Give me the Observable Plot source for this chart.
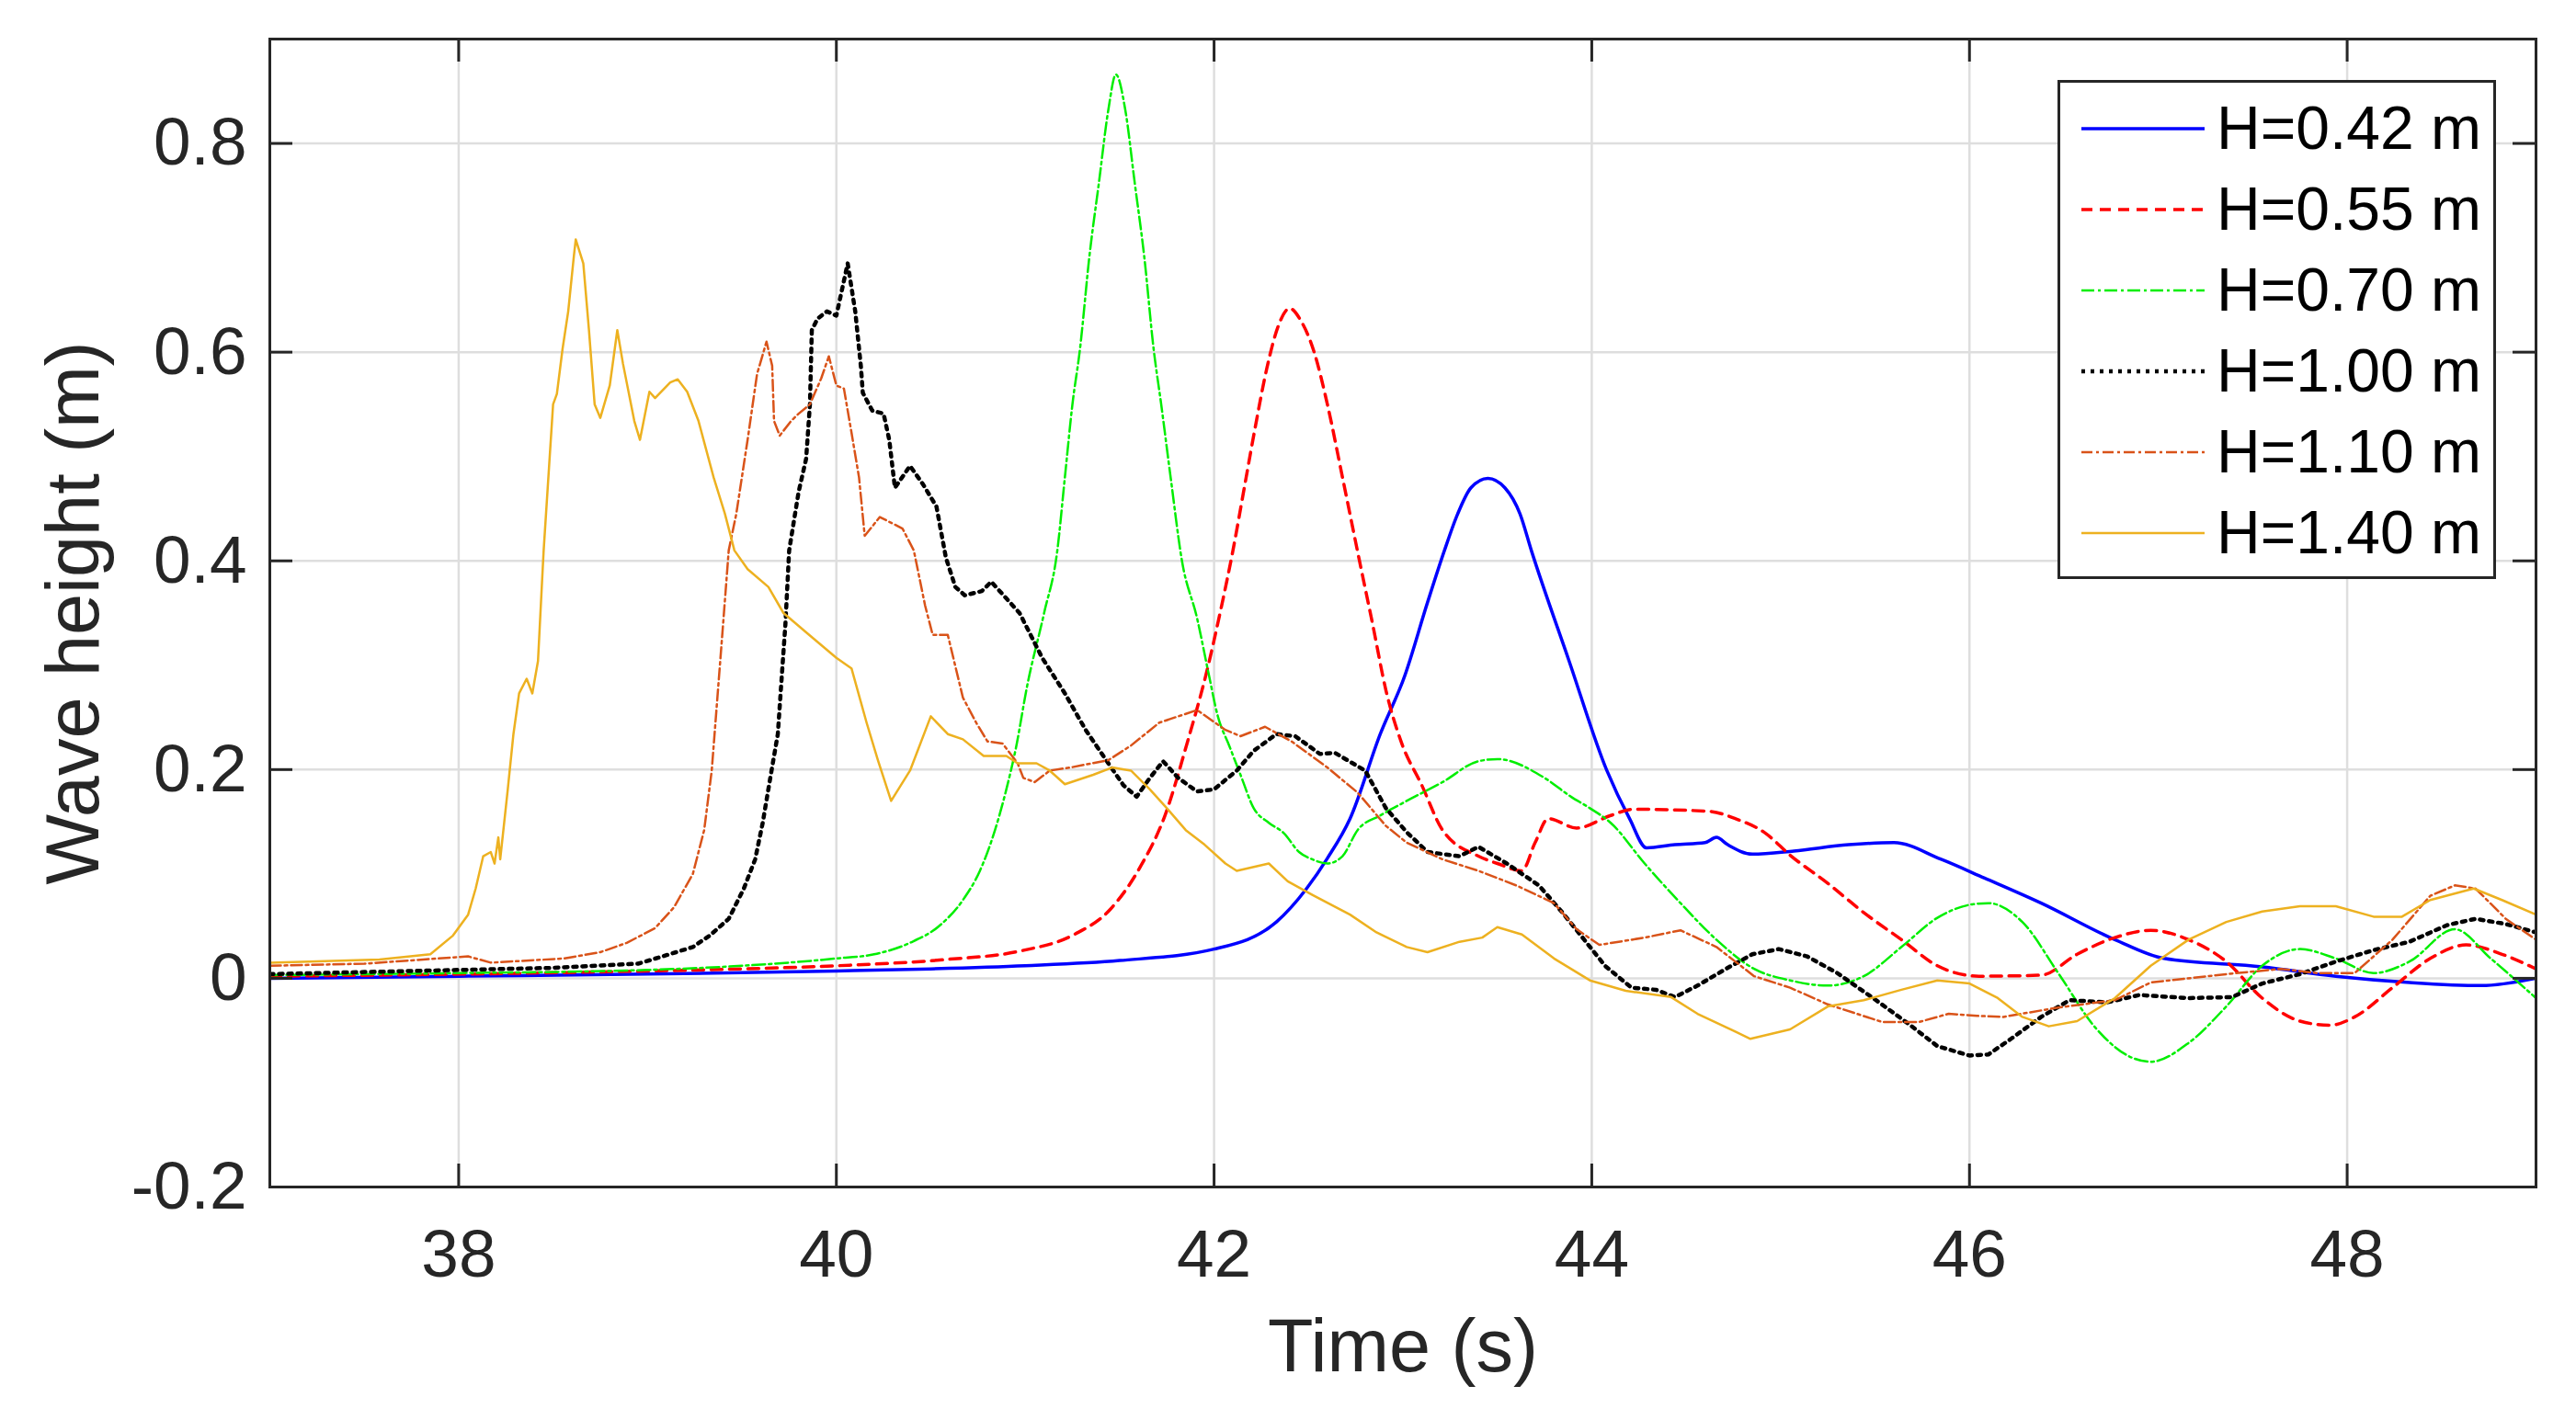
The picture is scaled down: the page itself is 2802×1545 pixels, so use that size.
<!DOCTYPE html>
<html>
<head>
<meta charset="utf-8">
<script src="https://cdn.jsdelivr.net/npm/d3@7"></script>
<script src="https://cdn.jsdelivr.net/npm/@observablehq/plot@0.6"></script>
<style>
  html, body { margin: 0; padding: 0; background: #fff; }
  #wrap { position: relative; width: 2802px; height: 1545px; font-family: "Liberation Sans", Arial, sans-serif; }
  #legend { position: absolute; box-sizing: border-box; background: #fff; border: 3px solid #262626; color: #000; }
  .entry { position: absolute; left: 0; height: 88px; width: 100%; }
  .entry svg { position: absolute; left: 22px; top: 39px; }
  .entry span { position: absolute; left: 170px; top: 0; line-height: 88px; font-size: 66px; white-space: nowrap; }
</style>
</head>
<body>
<div id="wrap"></div>
<script>
// ---- data (time in s, wave height in m) ----
const xTicks = [38, 40, 42, 44, 46, 48];
const yTicks = [-0.2, 0, 0.2, 0.4, 0.6, 0.8];
const seriesNames = ["H=0.42 m", "H=0.55 m", "H=0.70 m", "H=1.00 m", "H=1.10 m", "H=1.40 m"];

const h042 = [[37,0.0],[38,0.002],[39,0.004],[40,0.007],[40.5,0.009],[41,0.012],[41.5,0.017],[42,0.028],[42.33,0.054],[42.49,0.086],[42.6,0.115],[42.72,0.153],[42.88,0.234],[43.01,0.29],[43.13,0.36],[43.22,0.41],[43.29,0.445],[43.36,0.47],[43.45,0.479],[43.54,0.47],[43.62,0.445],[43.68,0.41],[43.88,0.304],[44.08,0.199],[44.2,0.153],[44.29,0.125],[44.44,0.128],[44.6,0.13],[44.66,0.135],[44.72,0.128],[44.85,0.119],[45.07,0.122],[45.36,0.128],[45.6,0.13],[45.85,0.114],[46.08,0.096],[46.38,0.072],[46.77,0.037],[47.03,0.019],[47.55,0.011],[47.94,0.002],[48.33,-0.004],[48.71,-0.007],[49,0.0]];

const h055 = [[37,0.002],[38,0.004],[39,0.007],[39.5,0.009],[40,0.012],[40.58,0.018],[40.97,0.026],[41.26,0.042],[41.45,0.066],[41.61,0.107],[41.74,0.156],[41.86,0.227],[41.96,0.293],[42.04,0.357],[42.1,0.41],[42.16,0.47],[42.22,0.53],[42.28,0.585],[42.34,0.625],[42.4,0.642],[42.46,0.63],[42.53,0.6],[42.6,0.55],[42.68,0.48],[42.77,0.4],[42.84,0.339],[42.91,0.276],[42.99,0.227],[43.1,0.185],[43.21,0.142],[43.4,0.117],[43.5,0.11],[43.63,0.103],[43.7,0.13],[43.77,0.153],[43.92,0.144],[44.1,0.156],[44.22,0.162],[44.62,0.16],[44.76,0.153],[44.92,0.139],[45.05,0.118],[45.25,0.091],[45.44,0.063],[45.64,0.037],[45.83,0.012],[46.05,0.002],[46.38,0.003],[46.57,0.023],[46.77,0.039],[46.96,0.046],[47.16,0.037],[47.36,0.016],[47.55,-0.019],[47.75,-0.041],[47.91,-0.045],[48.04,-0.037],[48.24,-0.009],[48.44,0.019],[48.63,0.032],[48.82,0.023],[49,0.009]];

const h070 = [[37,0.003],[38,0.005],[39,0.008],[39.5,0.012],[40,0.019],[40.2,0.023],[40.39,0.034],[40.55,0.051],[40.67,0.075],[40.76,0.103],[40.84,0.142],[40.9,0.181],[40.95,0.22],[41.01,0.28],[41.1,0.35],[41.17,0.41],[41.21,0.48],[41.25,0.55],[41.29,0.603],[41.34,0.692],[41.39,0.762],[41.44,0.832],[41.48,0.866],[41.53,0.832],[41.58,0.762],[41.63,0.692],[41.68,0.603],[41.72,0.55],[41.77,0.48],[41.83,0.4],[41.91,0.345],[41.97,0.293],[42.02,0.251],[42.08,0.223],[42.14,0.195],[42.21,0.163],[42.29,0.149],[42.37,0.139],[42.45,0.121],[42.52,0.114],[42.6,0.11],[42.68,0.117],[42.76,0.142],[42.88,0.156],[43.0,0.168],[43.21,0.188],[43.4,0.208],[43.5,0.21],[43.75,0.192],[43.89,0.174],[43.99,0.163],[44.1,0.149],[44.28,0.11],[44.47,0.072],[44.66,0.037],[44.86,0.009],[45.05,-0.002],[45.25,-0.007],[45.44,0.002],[45.64,0.03],[45.83,0.058],[46.02,0.071],[46.1,0.072],[46.28,0.054],[46.47,0.005],[46.67,-0.048],[46.86,-0.076],[46.96,-0.08],[47.16,-0.062],[47.36,-0.027],[47.55,0.012],[47.75,0.028],[47.94,0.019],[48.14,0.005],[48.33,0.016],[48.57,0.047],[48.76,0.019],[49,-0.019]];

const h100 = [[37,0.004],[37.5,0.006],[38,0.008],[38.5,0.01],[38.95,0.014],[39.08,0.021],[39.24,0.03],[39.33,0.041],[39.43,0.057],[39.51,0.086],[39.57,0.114],[39.61,0.149],[39.65,0.192],[39.69,0.234],[39.71,0.287],[39.73,0.339],[39.75,0.41],[39.8,0.466],[39.84,0.498],[39.86,0.55],[39.87,0.621],[39.9,0.632],[39.95,0.639],[40.0,0.635],[40.06,0.685],[40.1,0.639],[40.13,0.586],[40.14,0.561],[40.19,0.544],[40.25,0.541],[40.28,0.516],[40.31,0.47],[40.39,0.491],[40.46,0.473],[40.53,0.452],[40.58,0.403],[40.63,0.375],[40.68,0.367],[40.77,0.371],[40.82,0.38],[40.9,0.364],[40.97,0.35],[41.09,0.307],[41.21,0.273],[41.32,0.238],[41.44,0.206],[41.52,0.185],[41.59,0.174],[41.66,0.192],[41.73,0.208],[41.81,0.192],[41.91,0.179],[42.0,0.181],[42.12,0.199],[42.21,0.218],[42.33,0.234],[42.43,0.232],[42.56,0.215],[42.64,0.216],[42.8,0.199],[42.91,0.163],[43.02,0.14],[43.13,0.121],[43.3,0.117],[43.4,0.126],[43.55,0.11],[43.72,0.089],[43.84,0.064],[43.96,0.037],[44.07,0.012],[44.21,-0.009],[44.34,-0.011],[44.44,-0.018],[44.56,-0.007],[44.71,0.009],[44.85,0.023],[44.99,0.028],[45.14,0.021],[45.3,0.005],[45.49,-0.019],[45.68,-0.044],[45.83,-0.065],[46.0,-0.074],[46.1,-0.073],[46.22,-0.058],[46.38,-0.037],[46.53,-0.021],[46.73,-0.023],[46.9,-0.016],[47.16,-0.019],[47.39,-0.018],[47.55,-0.005],[47.75,0.004],[47.94,0.016],[48.14,0.027],[48.33,0.035],[48.53,0.051],[48.68,0.057],[48.84,0.052],[49,0.044]];

const h110 = [[37,0.012],[37.5,0.014],[38.05,0.021],[38.17,0.015],[38.56,0.019],[38.75,0.025],[38.89,0.034],[39.04,0.048],[39.14,0.068],[39.24,0.1],[39.3,0.142],[39.34,0.199],[39.37,0.269],[39.4,0.339],[39.43,0.41],[39.47,0.445],[39.53,0.516],[39.58,0.579],[39.63,0.61],[39.66,0.587],[39.67,0.534],[39.7,0.52],[39.76,0.534],[39.8,0.541],[39.86,0.55],[39.92,0.575],[39.96,0.596],[40.0,0.568],[40.04,0.565],[40.08,0.523],[40.12,0.48],[40.15,0.424],[40.23,0.442],[40.35,0.431],[40.41,0.41],[40.47,0.357],[40.51,0.329],[40.59,0.329],[40.67,0.269],[40.74,0.245],[40.8,0.227],[40.88,0.225],[40.96,0.206],[40.99,0.192],[41.05,0.188],[41.13,0.199],[41.24,0.202],[41.44,0.209],[41.56,0.223],[41.71,0.245],[41.91,0.257],[42.06,0.238],[42.14,0.232],[42.27,0.241],[42.41,0.227],[42.6,0.202],[42.76,0.178],[42.91,0.146],[43.02,0.13],[43.21,0.114],[43.4,0.103],[43.6,0.089],[43.8,0.072],[43.92,0.047],[44.04,0.032],[44.28,0.039],[44.47,0.046],[44.66,0.03],[44.86,0.002],[45.05,-0.009],[45.25,-0.025],[45.54,-0.042],[45.73,-0.042],[45.89,-0.034],[46.04,-0.036],[46.18,-0.037],[46.47,-0.028],[46.77,-0.021],[46.96,-0.004],[47.36,0.004],[47.65,0.009],[47.84,0.005],[48.04,0.005],[48.24,0.037],[48.44,0.079],[48.57,0.089],[48.68,0.086],[48.84,0.057],[49,0.037]];

const h140 = [[37,0.015],[37.58,0.018],[37.85,0.023],[37.97,0.041],[38.05,0.061],[38.09,0.086],[38.13,0.117],[38.17,0.121],[38.19,0.11],[38.21,0.135],[38.22,0.114],[38.26,0.181],[38.29,0.234],[38.32,0.273],[38.36,0.287],[38.39,0.273],[38.42,0.304],[38.44,0.375],[38.45,0.41],[38.5,0.55],[38.52,0.56],[38.55,0.603],[38.58,0.639],[38.61,0.692],[38.62,0.708],[38.66,0.685],[38.69,0.621],[38.72,0.55],[38.75,0.537],[38.8,0.568],[38.84,0.621],[38.87,0.589],[38.93,0.534],[38.96,0.516],[39.01,0.562],[39.04,0.556],[39.12,0.571],[39.16,0.574],[39.21,0.562],[39.27,0.534],[39.35,0.48],[39.41,0.445],[39.46,0.41],[39.53,0.392],[39.64,0.375],[39.72,0.35],[39.85,0.33],[40.0,0.307],[40.08,0.297],[40.16,0.245],[40.22,0.209],[40.29,0.17],[40.39,0.199],[40.5,0.251],[40.59,0.234],[40.67,0.229],[40.78,0.213],[40.9,0.213],[40.96,0.206],[41.06,0.206],[41.13,0.199],[41.21,0.186],[41.36,0.195],[41.46,0.202],[41.56,0.199],[41.66,0.181],[41.75,0.163],[41.85,0.142],[41.95,0.128],[42.06,0.11],[42.12,0.103],[42.29,0.11],[42.39,0.093],[42.52,0.08],[42.72,0.061],[42.86,0.044],[43.02,0.03],[43.13,0.025],[43.3,0.035],[43.42,0.039],[43.5,0.049],[43.63,0.042],[43.8,0.019],[43.99,-0.002],[44.18,-0.012],[44.42,-0.018],[44.56,-0.034],[44.76,-0.051],[44.84,-0.058],[45.05,-0.049],[45.25,-0.027],[45.44,-0.021],[45.64,-0.011],[45.83,-0.002],[46.0,-0.005],[46.15,-0.019],[46.28,-0.037],[46.42,-0.046],[46.57,-0.041],[46.77,-0.019],[46.96,0.012],[47.16,0.037],[47.36,0.054],[47.55,0.064],[47.75,0.069],[47.94,0.069],[48.14,0.059],[48.29,0.059],[48.44,0.075],[48.67,0.086],[48.82,0.075],[49,0.061]];

// ---- styles ----
const seriesData = [h042, h055, h070, h100, h110, h140];
const styles = [
  {color: "#0000ff", dash: null,        width: 3.5, curve: "monotone-x"},
  {color: "#ff0000", dash: "12 8",      width: 3.5, curve: "monotone-x"},
  {color: "#00ee00", dash: "14 4 3 4",  width: 2.5, curve: "monotone-x"},
  {color: "#000000", dash: "4 6",       width: 4.5, curve: "linear"},
  {color: "#D95319", dash: "12 4 3 4",  width: 2.5, curve: "linear"},
  {color: "#EDB120", dash: null,        width: 2.5, curve: "linear"}
];

const W = 2802, H = 1545;
const mL = 293, mR = 44, mT = 42, mB = 254;
const plotH = H - mT - mB, plotW = W - mL - mR;
const tickLen = 25;
const axisColor = "#262626";

const lineMarks = seriesData.map((data, i) => Plot.line(data, {
  x: d => d[0], y: d => d[1],
  stroke: styles[i].color, strokeWidth: styles[i].width,
  strokeDasharray: styles[i].dash, curve: styles[i].curve, clip: true
}));

const chart = Plot.plot({
  width: W, height: H,
  marginLeft: mL, marginRight: mR, marginTop: mT, marginBottom: mB,
  x: {domain: [37, 49]},
  y: {domain: [-0.2, 0.9]},
  style: {fontFamily: "'Liberation Sans', Arial, sans-serif", background: "#fff", color: axisColor, overflow: "visible"},
  marks: [
    Plot.gridX(xTicks, {stroke: "#dedede", strokeOpacity: 1, strokeWidth: 2.5}),
    Plot.gridY(yTicks, {stroke: "#dedede", strokeOpacity: 1, strokeWidth: 2.5}),
    ...lineMarks,
    Plot.frame({stroke: axisColor, strokeWidth: 3}),
    Plot.ruleX(xTicks, {x: d => d, insetTop: plotH - tickLen, stroke: axisColor, strokeWidth: 3}),
    Plot.ruleX(xTicks, {x: d => d, insetBottom: plotH - tickLen, stroke: axisColor, strokeWidth: 3}),
    Plot.ruleY(yTicks, {y: d => d, insetRight: plotW - tickLen, stroke: axisColor, strokeWidth: 3}),
    Plot.ruleY(yTicks, {y: d => d, insetLeft: plotW - tickLen, stroke: axisColor, strokeWidth: 3}),
    Plot.axisX(xTicks, {tickSize: 0, tickPadding: 46, fontSize: 73, tickFormat: d => String(d), label: null}),
    Plot.axisY(yTicks, {tickSize: 0, tickPadding: 25, fontSize: 73, tickFormat: d => String(d), label: null}),
    Plot.text(["Time (s)"], {frameAnchor: "bottom", dy: 143, lineAnchor: "top", textAnchor: "middle", fontSize: 81, fill: axisColor}),
    Plot.text(["Wave height (m)"], {frameAnchor: "left", rotate: -90, dx: -244, lineAnchor: "top", textAnchor: "middle", fontSize: 81, fill: axisColor})
  ]
});

const wrap = document.getElementById("wrap");
wrap.appendChild(chart);

// ---- legend (inside the axes, top-right) ----
const legend = document.createElement("div");
legend.id = "legend";
Object.assign(legend.style, {left: "2238px", top: "87px", width: "477px", height: "543px"});
seriesNames.forEach((name, i) => {
  const row = document.createElement("div");
  row.className = "entry";
  row.style.top = (5 + i * 88) + "px";
  const st = styles[i];
  row.innerHTML = `<svg width="136" height="12"><line x1="1" y1="6" x2="135" y2="6" stroke="${st.color}" stroke-width="${st.width}" ${st.dash ? `stroke-dasharray="${st.dash}"` : ""}/></svg><span>${name}</span>`;
  legend.appendChild(row);
});
wrap.appendChild(legend);
</script>
</body>
</html>
